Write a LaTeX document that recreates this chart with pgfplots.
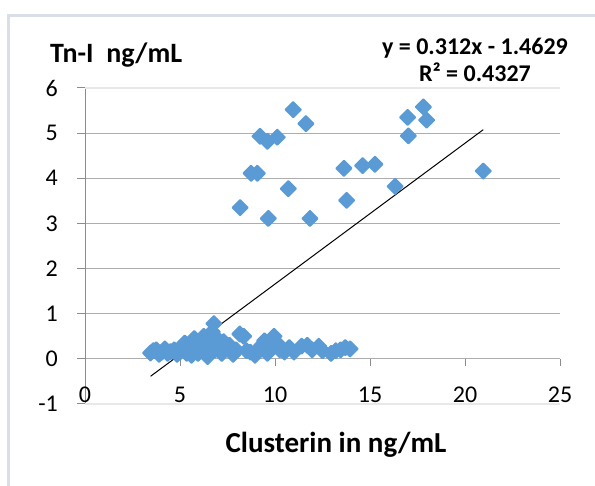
\documentclass[border=0pt]{standalone}
\usepackage{pgfplots}
\pgfplotsset{compat=1.18}
\usepackage{fontspec}
\setmainfont{Carlito}

\definecolor{mblue}{HTML}{5B9BD5}
\definecolor{gridgray}{HTML}{ADADAD}
\definecolor{gridlight}{HTML}{E8E8E8}
\definecolor{axisgray}{HTML}{8C8C8C}
\definecolor{framegray}{HTML}{D9DEE7}

\begin{document}
\begin{tikzpicture}
\begin{axis}[
    at={(85pt,82pt)}, anchor=south west,
    scale only axis, width=475pt, height=316pt,
    xmin=0, xmax=25, ymin=-1, ymax=6,
    axis x line=bottom, axis y line=left,
    x axis line style={draw=gridlight, line width=1pt, -},
    y axis line style={draw=axisgray, line width=1pt, -},
    xtick={0,5,...,25}, ytick={-1,0,...,6},
    ymajorgrids, major grid style={draw=gridgray, line width=1.2pt},
    tick align=outside, major tick length=8pt,
    ytick style={draw=axisgray, line width=1pt},
    xtick style={draw=none},
    /pgf/number format/assume math mode=true,
    tick label style={font=\fontsize{24}{28}\selectfont, text=black},
    xticklabel style={anchor=base, inner sep=0pt, yshift=9pt},
    yticklabel style={anchor=east, inner sep=0pt},
    yticklabel shift=19pt,
    clip=false,
]
% light edge lines at 6 and -1, small ticks under the zero line
\draw[gridlight, line width=1.6pt] (axis cs:0,6) -- (axis cs:25,6);
\draw[gridlight, line width=1.6pt] (axis cs:0,-1) -- (axis cs:25,-1);
\pgfplotsinvokeforeach{5,10,15,20,25}{
  \draw[axisgray, line width=1pt] (axis cs:#1,0) -- ([yshift=-7pt]axis cs:#1,0);
}

% Tn-I vs Clusterin
\addplot[only marks, mark=square*, mark size=5.4pt,
  mark options={rotate=45, fill=mblue, draw=mblue, line width=1.8pt, line join=round}]
  table {
x y
3.45 0.13
3.60 0.18
3.75 0.20
3.90 0.10
4.05 0.15
4.20 0.22
4.35 0.12
4.50 0.16
4.70 0.20
4.85 0.10
5.00 0.15
5.10 0.27
5.25 0.35
5.35 0.12
5.50 0.20
5.60 0.08
5.75 0.45
5.85 0.25
5.95 0.12
6.10 0.30
6.25 0.50
6.35 0.15
6.45 0.05
6.55 0.35
6.70 0.60
6.78 0.78
6.85 0.20
6.95 0.45
7.05 0.30
7.20 0.12
7.30 0.38
7.45 0.22
7.60 0.30
7.80 0.10
7.95 0.20
8.15 0.55
8.35 0.50
8.50 0.18
8.70 0.15
8.95 0.08
9.10 0.20
9.30 0.30
9.45 0.40
9.60 0.12
9.80 0.25
9.95 0.50
10.10 0.35
10.25 0.20
10.50 0.15
10.75 0.25
11.00 0.15
11.40 0.28
11.70 0.30
11.95 0.20
12.30 0.28
12.50 0.18
12.95 0.12
13.20 0.18
13.45 0.20
13.70 0.25
13.95 0.22
10.96 5.52
11.63 5.21
9.21 4.93
9.60 4.82
10.12 4.91
8.74 4.11
9.07 4.11
8.16 3.35
10.70 3.77
9.65 3.11
11.84 3.11
13.63 4.22
13.77 3.51
14.61 4.28
15.26 4.31
16.32 3.82
16.98 5.35
17.81 5.58
17.98 5.29
17.02 4.94
20.96 4.16
};

% linear trendline
\addplot[black, line width=1pt] coordinates {(3.45,-0.3865) (20.96,5.0766)};
\end{axis}

\node[anchor=base west, inner sep=0pt, font=\bfseries\fontsize{28}{32}\selectfont] at (50pt,423pt) {Tn-I\ \ ng/mL};
\node[anchor=base, inner sep=0pt, font=\bfseries\fontsize{24}{28}\selectfont] at (475pt,431pt) {y = 0.312x - 1.4629};
\node[anchor=base, inner sep=0pt, font=\bfseries\fontsize{24}{28}\selectfont] at (475pt,404pt) {R² = 0.4327};
\node[anchor=base, inner sep=0pt, font=\bfseries\fontsize{29}{33}\selectfont] at (336pt,33pt) {Clusterin in ng/mL};

\draw[framegray, line width=3pt] (8.5pt,-20pt) rectangle (640pt,470.5pt);
\pgfresetboundingbox
\path[use as bounding box] (0pt,0pt) rectangle (595pt,486pt);
\end{tikzpicture}
\end{document}
